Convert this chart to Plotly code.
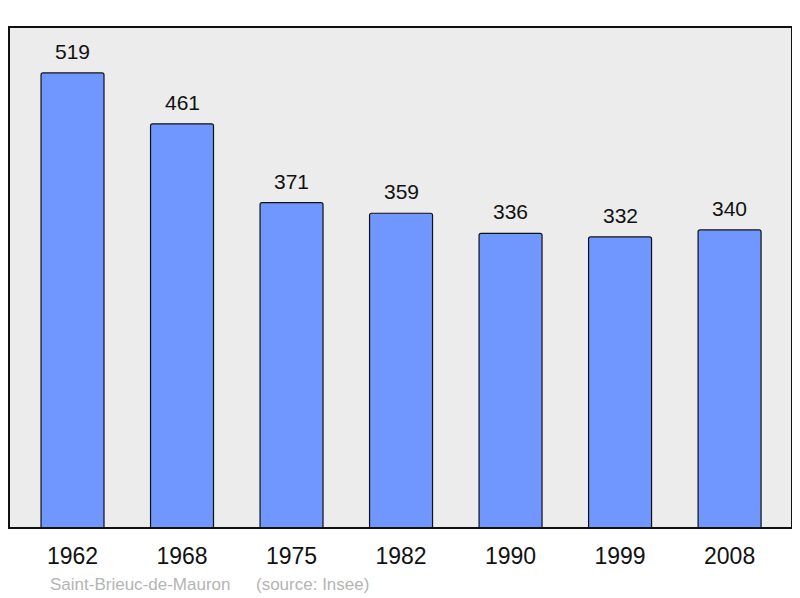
import plotly.graph_objects as go

years = ["1962", "1968", "1975", "1982", "1990", "1999", "2008"]
population = [519, 461, 371, 359, 336, 332, 340]

# page body has an 8px default margin; size the figure so the plot area lands at x 9..792, y 27..528
W, H = 784, 590
L, T, PW, PH = 1, 19, 783, 501

fig = go.Figure()
fig.add_trace(go.Bar(
    x=list(range(len(years))), y=population,
    width=0.575,
    marker=dict(color="#7096ff", line=dict(color="#111111", width=1.2), cornerradius=2),
    hoverinfo="skip",
))
for i, v in enumerate(population):
    fig.add_annotation(x=i, y=v, text=str(v), showarrow=False, yanchor="bottom",
                       yshift=8, font=dict(size=21, color="#111111", family="Liberation Sans"))

fig.add_shape(type="rect", xref="paper", yref="paper", x0=0, y0=0, x1=1, y1=1,
              line=dict(color="#111111", width=2), layer="above")

src_y = -(584 - 528) / PH
fig.add_annotation(xref="paper", yref="paper", x=(49 - 9) / PW, y=src_y,
                   text="Saint-Brieuc-de-Mauron", showarrow=False, xanchor="left", yanchor="middle",
                   xshift=-1, font=dict(size=17, color="#b4b4b4", family="Liberation Sans"))
fig.add_annotation(xref="paper", yref="paper", x=(255 - 9) / PW, y=src_y,
                   text="(source: Insee)", showarrow=False, xanchor="left", yanchor="middle",
                   xshift=-1, font=dict(size=17, color="#b4b4b4", family="Liberation Sans"))

fig.update_layout(
    width=W, height=H,
    margin=dict(l=L, r=W - L - PW, t=T, b=H - T - PH, pad=0),
    paper_bgcolor="white", plot_bgcolor="#ececec",
    showlegend=False,
    font=dict(family="Liberation Sans", color="#111111"),
    xaxis=dict(range=[-0.58, 6.57], tickmode="array", tickvals=list(range(len(years))),
               ticktext=years, showgrid=False, zeroline=False, ticks="",
               tickfont=dict(size=23), ticklabelstandoff=12),
    yaxis=dict(range=[0, 571.4], showgrid=False, zeroline=False, showticklabels=False, ticks=""),
)
fig.write_html("out.html")
